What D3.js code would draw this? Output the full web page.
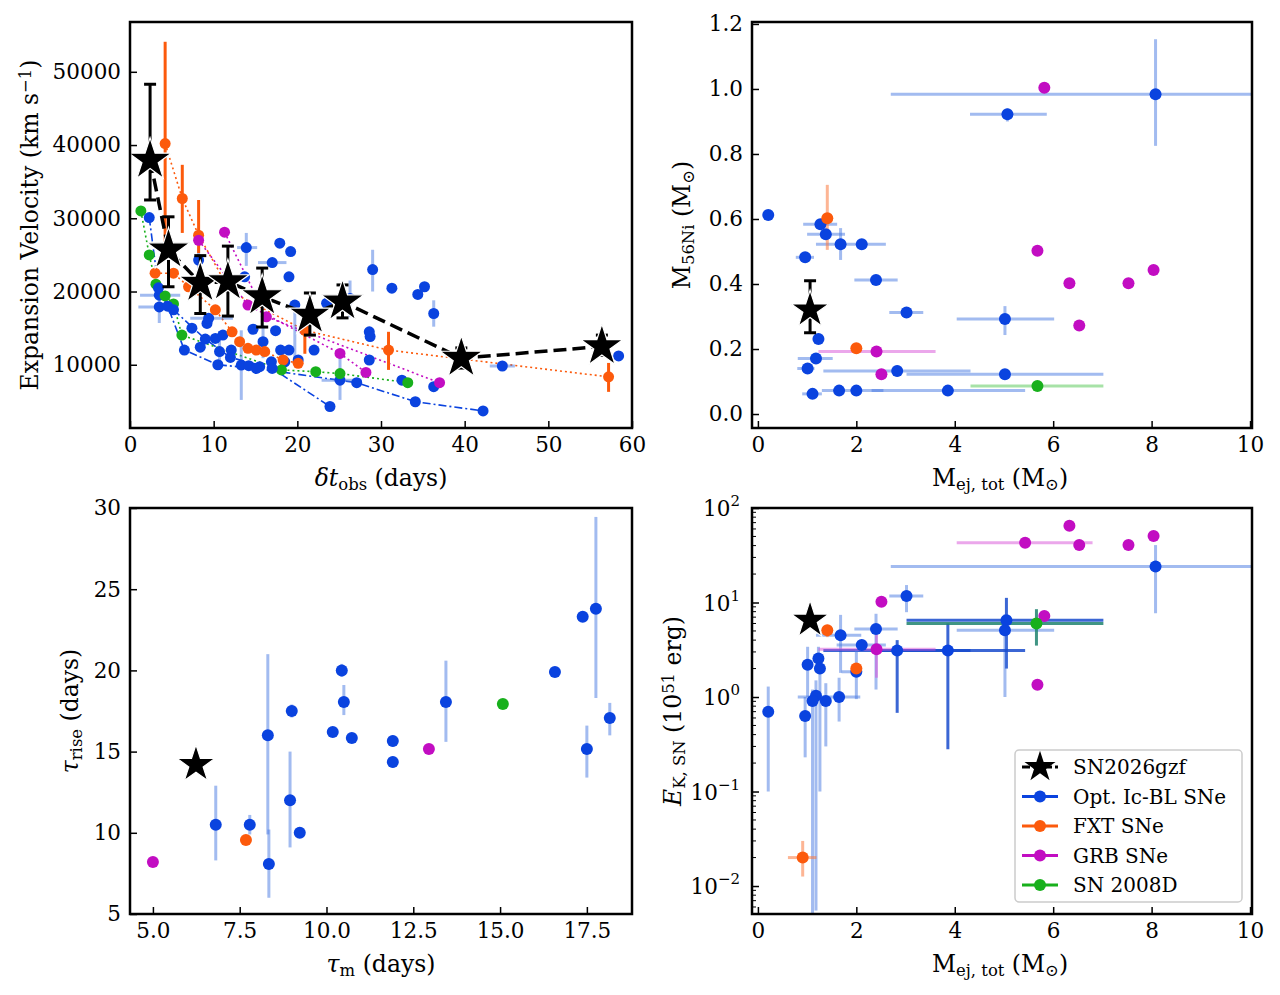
<!DOCTYPE html>
<html><head><meta charset="utf-8">
<script src="https://cdn.jsdelivr.net/npm/d3@7"></script>
<style>body{margin:0;background:#fff}svg text{font-family:"DejaVu Serif",serif}</style>
</head><body>
<svg id="c" width="1280" height="995"></svg>
<script>
// ---------- data: panel A (velocity vs time) ----------
// SN2026gzf: [t, v, vlo, vhi]
var starVel = [[2.4,37950,32500,48300],[4.6,25700,20650,30200],[8.4,21150,17000,24900],[11.7,21350,16650,26200],
  [15.8,19300,15150,23200],[21.5,16800,14050,19800],[25.4,18600,16400,20900],[39.6,10900,9550,12300],[56.4,12500,11300,14050]];
// Ic-BL scatter: [t, v, tlo, thi, vlo, vhi] (null = no bar)
var blueVel = [[3.5,19500,1.2,6.0,null,null],[3.5,17900,1.0,5.2,15700,19800],[7.4,15000],[8.4,12400,null,null,11700,13100],
  [8.2,24300,null,null,22500,26000],[9.2,15650],[9.4,16350,7.2,12.3,null,null],[10.2,13600],[10.7,11800,null,null,9300,14600],
  [11.1,14050],[12.1,12000],[13.3,9950,null,null,5200,14700],[14.2,9870],[13.9,26000,12.8,15.2,23500,28000],[13.7,22000],
  [14.7,14850],[15.5,9730],[15.9,13150,null,null,10900,15400],[16.9,10400],[17.0,23950,15.3,18.7,null,null],[17.4,14650],
  [17.9,26600],[18.0,12000],[18.5,10400],[19.0,12000],[19.0,22000],[19.2,25450],[19.7,18150,null,null,10200,18200],
  [20.1,10650],[22.0,12000],[23.5,18400],[25.1,7900,22.9,27.7,5200,11500],[26.3,19050,null,null,16500,21500],[28.6,14500],
  [28.7,13850],[28.6,10650],[29.0,23000,null,null,20000,25700],[31.3,20450],[32.5,7900],[34.4,19600],[35.2,20650],
  [36.3,17000,null,null,15200,18800],[36.3,7000],[44.5,9830,43.0,46.0,null,null],[58.4,11200]];
var blueLines = [[[2.3,30100],[3.4,20500],[4.5,18000],[6.5,12000],[10.5,10000],[15.1,9500],[27.1,7550],[34.1,4950],[42.2,3700]],
  [[5.2,17500],[9.0,13500],[12.0,11000],[17.0,9500],[23.9,4300]]];
var orangeLines = [[[4.2,40200],[6.25,32700],[8.2,27700],[12.0,20000],[20.9,14700],[30.9,12000],[57.2,8350]],
  [[3.0,22500],[5.2,22500],[7.0,20650],[10.2,17500],[12.2,14500],[13.1,13150],[14.1,12250],[15.1,12000],[16.1,11800],[18.3,10650],[20.1,10200]]];
// orange bars: [t, v, vlo, vhi]
var orangeBars = [[4.2,40200,25250,54100],[6.25,32700,28000,37300],[8.2,27700,25250,32500],[20.9,14700,11500,16800],
  [30.9,12000,9300,14500],[57.2,8350,6300,10250]];
var magLines = [[[8.2,27000],[14.1,18150],[25.1,11550],[28.2,8950]],[[11.3,28100],[16.3,16550],[37.0,7550]]];
var greenLine = [[1.3,31000],[2.3,25000],[3.1,21000],[4.2,19400],[5.2,18300],[6.2,14050],[18.1,9300],[22.2,9050],[25.1,8800],[33.2,7550]];

// ---------- panel B (Ni mass vs ejecta mass): [m, ni, mlo, mhi, nlo, nhi] ----------
var starNi = [[1.06,0.32,null,null,0.25,0.41]];
var blueNi = [[0.21,0.612],[1.27,0.584,0.92,1.61],[1.38,0.553,1.0,1.77],[1.68,0.522,null,null,0.474,0.572],[2.11,0.522,1.18,2.6],
  [0.96,0.482,0.77,1.14],[2.4,0.412,1.96,2.84],[3.02,0.312,2.67,3.36],[5.02,0.292,4.04,6.02,0.243,0.332],
  [8.08,0.984,2.7,10.5,0.825,1.153],[5.07,0.922,4.31,5.87,0.9,0.94],[1.23,0.231],[1.18,0.171,0.81,1.52],[1.01,0.14,0.8,1.15],
  [2.83,0.132,1.33,4.32,0.115,0.15],[5.02,0.122,3.02,7.02],[1.65,0.072],[2.0,0.072,1.3,2.55],[3.86,0.072,2.31,5.43],[1.11,0.062,0.9,1.3]];
var orangeNi = [[1.41,0.602,null,null,0.505,0.705],[2.0,0.202]];
var magNi = [[5.82,1.004],[5.68,0.502],[6.33,0.402],[7.53,0.402],[8.04,0.443],[6.53,0.272],[2.41,0.192,1.23,3.61],[2.51,0.122]];
var greenNi = [[5.68,0.086,4.32,7.02]];

// ---------- panel C (rise time vs tau_m): [tm, tr, null, null, lo, hi] ----------
var starTau = [[6.24,14.2]];
var blueTau = [[6.81,10.5,null,null,8.3,12.9],[7.79,10.5,null,null,9.9,11.1],[8.31,16.0,null,null,9.9,21.0],[8.34,8.08,null,null,6.0,10.2],
  [8.95,12.0,null,null,9.1,15.0],[9.0,17.5,null,null,17.1,17.9],[9.23,10.0],[10.18,16.2],[10.44,20.0,null,null,19.6,20.4],
  [10.5,18.05,null,null,17.25,19.1],[10.73,15.84],[11.91,15.65,null,null,15.3,16.0],[11.91,14.36,null,null,14.0,14.7],
  [13.44,18.05,null,null,15.6,20.6],[16.58,19.9],[17.38,23.3],[17.5,15.16,null,null,13.4,16.6],[17.76,23.8,null,null,18.3,29.45],
  [18.16,17.07,null,null,16.0,18.0]];
var orangeTau = [[7.68,9.56]];
var magTau = [[5.0,8.2],[12.95,15.16]];
var greenTau = [[15.08,17.93]];

// ---------- panel D (kinetic energy vs ejecta mass) ----------
var starEk = [[1.06,6.5]];
var blueEk = [[8.08,24,2.7,10.5,7.7,40.5],[3.02,11.7,2.67,3.36,7.9,15.3],[5.05,6.5,3.02,7.02,2.0,11.2,1],[5.02,5.1,4.04,6.02,1.0,7.5],
  [1.68,4.5,1.18,2.1,1.8,7.4],[2.4,5.25,1.96,2.84,1.2,7.6],[2.83,3.1,1.33,4.32,0.68,4.0,1],[3.86,3.1,2.31,5.43,0.28,6.0,1],
  [2.11,3.55,1.6,2.6],[2.0,1.85,1.7,2.1,0.95,3.2],[1.01,2.2,null,null,1.0,3.4],[1.23,2.55,null,null,2.0,3.4],
  [1.26,2.0,null,null,0.1,2.6],[1.65,1.0,0.81,2.08,0.55,1.6],[1.18,1.03,null,null,0.0055,1.5],[1.11,0.91,null,null,0.005,1.2],
  [1.38,0.91,null,null,0.3,1.4],[0.96,0.63,null,null,0.23,1.0],[0.21,0.7,null,null,0.1,1.29]];
var orangeEk = [[1.41,5.1,null,null,4.3,5.8],[2.0,2.0],[0.91,0.02,0.61,1.19,0.0126,0.03]];
var magEk = [[6.33,65],[5.43,43,4.04,6.8],[6.53,40.6],[7.53,40.6],[8.04,50.6],[2.51,10.2],[5.82,7.2],[5.68,1.35],
  [2.41,3.2,1.23,3.61,1.6,4.75]];
var greenEk = [[5.66,6.0,3.02,7.02,3.5,8.5]];

var legendNames = ["SN2026gzf","Opt. Ic-BL SNe","FXT SNe","GRB SNe","SN 2008D"];

var C = {blue:"#0a43df", lblue:"rgba(70,120,225,0.5)", dblue:"rgba(25,75,205,0.85)", orange:"#fc5a0c", lorange:"rgba(252,120,60,0.55)",
  mag:"#c20dc2", lmag:"rgba(215,80,215,0.5)", green:"#18b01c", lgreen:"rgba(60,190,60,0.45)"};

var svg = d3.select("#c");

function panel(x0, y0, w, h, xs, ys) {
  var g = svg.append("g").attr("transform", "translate(" + x0 + "," + y0 + ")");
  g.append("defs").append("clipPath").attr("id", "cp" + x0 + y0).append("rect").attr("width", w).attr("height", h);
  var inner = g.append("g").attr("clip-path", "url(#cp" + x0 + y0 + ")");
  return {g: g, inner: inner, x: xs, y: ys, w: w, h: h};
}

function axes(p, xticks, yticks, xfmt, yfmt) {
  var ax = p.g.append("g").attr("transform", "translate(0," + p.h + ")")
    .call(d3.axisBottom(p.x).tickValues(xticks).tickFormat(xfmt).tickSizeInner(-7).tickSizeOuter(0).tickPadding(9));
  var ay = p.g.append("g")
    .call(d3.axisLeft(p.y).tickValues(yticks).tickFormat(yfmt).tickSizeInner(-7).tickSizeOuter(0).tickPadding(9));
  [ax, ay].forEach(function(a) {
    a.select(".domain").remove();
    a.selectAll("line").attr("stroke", "#000").attr("stroke-width", 1.5);
    a.selectAll("text").attr("font-size", 21.5).attr("fill", "#000").attr("font-family", "DejaVu Serif");
  });
  p.g.append("rect").attr("width", p.w).attr("height", p.h).attr("fill", "none").attr("stroke", "#000").attr("stroke-width", 2.5);
}

function bars(p, rows, col, caps) {
  rows.forEach(function(r) {
    var c = r[6] ? C.dblue : col;
    if (r[2] != null) p.inner.append("line").attr("x1", p.x(r[2])).attr("x2", p.x(r[3])).attr("y1", p.y(r[1])).attr("y2", p.y(r[1]))
      .attr("stroke", c).attr("stroke-width", 3);
    if (r[4] != null) {
      p.inner.append("line").attr("x1", p.x(r[0])).attr("x2", p.x(r[0])).attr("y1", p.y(r[4])).attr("y2", p.y(r[5]))
        .attr("stroke", c).attr("stroke-width", 3);
      if (caps) [r[4], r[5]].forEach(function(v) {
        p.inner.append("line").attr("x1", p.x(r[0]) - 6).attr("x2", p.x(r[0]) + 6).attr("y1", p.y(v)).attr("y2", p.y(v))
          .attr("stroke", c).attr("stroke-width", 3);
      });
    }
  });
}

function dots(p, rows, col, r) {
  p.inner.selectAll(null).data(rows).enter().append("circle")
    .attr("cx", function(d) { return p.x(d[0]); }).attr("cy", function(d) { return p.y(d[1]); })
    .attr("r", r || 6).attr("fill", col);
}

function stars(p, rows, size) {
  p.inner.selectAll(null).data(rows).enter().append("path")
    .attr("d", d3.symbol().type(d3.symbolStar).size(size))
    .attr("transform", function(d) { return "translate(" + p.x(d[0]) + "," + p.y(d[1]) + ")"; })
    .attr("fill", "#000").attr("stroke", "#fff").attr("stroke-width", 1.2);
}

function path(p, pts, col, dash, sw) {
  p.inner.append("path").datum(pts)
    .attr("d", d3.line().x(function(d) { return p.x(d[0]); }).y(function(d) { return p.y(d[1]); }))
    .attr("fill", "none").attr("stroke", col).attr("stroke-width", sw || 1.6).attr("stroke-dasharray", dash);
}

function label(x, y, rot, parts, size) {
  size = size || 23.5;
  var t = svg.append("text").attr("transform", "translate(" + x + "," + y + ") rotate(" + rot + ")")
    .attr("text-anchor", "middle").attr("font-size", size).attr("fill", "#000");
  parts.forEach(function(s) {
    var ts = t.append("tspan").text(s[0]);
    if (s[1] == "sub") ts.attr("font-size", size * 0.7).attr("baseline-shift", "-25%");
    if (s[1] == "sup") ts.attr("font-size", size * 0.7).attr("baseline-shift", "45%");
    if (s[1] == "it") ts.attr("font-style", "italic");
  });
}

// ---------- Panel A ----------
var pA = panel(130, 22, 502, 406, d3.scaleLinear().domain([0, 60]).range([0, 502]),
  d3.scaleLinear().domain([1365, 56800]).range([406, 0]));
blueLines.forEach(function(l) { path(pA, l, C.blue, "8,3,2,3"); });
orangeLines.forEach(function(l) { path(pA, l, C.orange, "2,3"); });
magLines.forEach(function(l) { path(pA, l, C.mag, "2,3"); });
path(pA, greenLine, C.green, "2,3");
bars(pA, blueVel, C.lblue);
dots(pA, blueVel, C.blue, 5.5);
bars(pA, orangeBars.map(function(r) { return [r[0], r[1], null, null, r[2], r[3]]; }), C.orange);
dots(pA, orangeBars, C.orange, 5.5);
dots(pA, orangeLines[1], C.orange, 5.5);
dots(pA, magLines[0].concat(magLines[1]), C.mag, 5.5);
dots(pA, greenLine, C.green, 5.5);
dots(pA, blueLines[0].concat(blueLines[1]), C.blue, 5.5);
path(pA, starVel, "#000", "13,6", 3.5);
bars(pA, starVel.map(function(r) { return [r[0], r[1], null, null, r[2], r[3]]; }), "#000", true);
stars(pA, starVel, 560);
axes(pA, d3.range(0, 61, 10), d3.range(10000, 50001, 10000), d3.format("d"), d3.format("d"));
label(38, 225, -90, [["Expansion Velocity (km s"], ["−1", "sup"], [")"]]);
label(381, 486, 0, [["δ", "it"], ["t", "it"], ["obs", "sub"], [" (days)"]]);

// ---------- Panel B ----------
var mScale = function() { return d3.scaleLinear().domain([-0.12, 10.04]).range([0, 500]); };
var pB = panel(752, 22, 500, 406, mScale(), d3.scaleLinear().domain([-0.043, 1.206]).range([406, 0]));
bars(pB, blueNi, C.lblue); bars(pB, orangeNi, C.lorange); bars(pB, magNi, C.lmag); bars(pB, greenNi, C.lgreen);
dots(pB, blueNi, C.blue); dots(pB, orangeNi, C.orange); dots(pB, magNi, C.mag); dots(pB, greenNi, C.green);
bars(pB, starNi, "#000", true); stars(pB, starNi, 440);
axes(pB, d3.range(0, 11, 2), d3.range(0, 1.21, 0.2), d3.format("d"), d3.format(".1f"));
label(690, 225, -90, [["M"], ["56Ni", "sub"], [" (M"], ["⊙", "sub"], [")"]]);
label(1000, 486, 0, [["M"], ["ej, tot", "sub"], [" (M"], ["⊙", "sub"], [")"]]);

// ---------- Panel C ----------
var pC = panel(130, 508, 502, 406, d3.scaleLinear().domain([4.34, 18.8]).range([0, 502]),
  d3.scaleLinear().domain([5, 30]).range([406, 0]));
bars(pC, blueTau, C.lblue);
dots(pC, blueTau, C.blue); dots(pC, orangeTau, C.orange); dots(pC, magTau, C.mag); dots(pC, greenTau, C.green);
stars(pC, starTau, 440);
axes(pC, d3.range(5, 17.6, 2.5), d3.range(5, 31, 5), d3.format(".1f"), d3.format("d"));
label(78, 711, -90, [["τ", "it"], ["rise", "sub"], [" (days)"]]);
label(381, 972, 0, [["τ", "it"], ["m", "sub"], [" (days)"]]);

// ---------- Panel D ----------
var pD = panel(752, 508, 500, 406, mScale(), d3.scaleLog().domain([Math.pow(10, -2.296), 100]).range([406, 0]));
bars(pD, blueEk, C.lblue); bars(pD, orangeEk, C.lorange); bars(pD, magEk, C.lmag); bars(pD, greenEk, "rgba(30,130,110,0.85)");
dots(pD, blueEk, C.blue); dots(pD, orangeEk, C.orange); dots(pD, magEk, C.mag); dots(pD, greenEk, C.green);
stars(pD, starEk, 440);
axes(pD, d3.range(0, 11, 2), [0.01, 0.1, 1, 10, 100], d3.format("d"), function() { return ""; });
// minor log ticks
var minor = [];
[0.001, 0.01, 0.1, 1, 10].forEach(function(b) { for (var k = 2; k < 10; k++) minor.push(b * k); });
pD.g.selectAll(null).data(minor.filter(function(v) { return v > pD.y.domain()[0] && v < 100; })).enter().append("line")
  .attr("x1", 0).attr("x2", 4).attr("y1", function(d) { return pD.y(d); }).attr("y2", function(d) { return pD.y(d); })
  .attr("stroke", "#000").attr("stroke-width", 1);
var logLab = [[0.01, "−2"], [0.1, "−1"], [1, "0"], [10, "1"], [100, "2"]];
logLab.forEach(function(d) {
  var t = pD.g.append("text").attr("x", -12).attr("y", pD.y(d[0]) + 8).attr("text-anchor", "end").attr("font-size", 21.5);
  t.append("tspan").text("10");
  t.append("tspan").text(d[1]).attr("font-size", 15).attr("dy", -10);
});
label(681, 711, -90, [["E", "it"], ["K, SN", "sub"], [" (10"], ["51", "sup"], [" erg)"]]);
label(1000, 972, 0, [["M"], ["ej, tot", "sub"], [" (M"], ["⊙", "sub"], [")"]]);

// legend
var lg = svg.append("g").attr("transform", "translate(1015,750)");
lg.append("rect").attr("width", 227).attr("height", 152).attr("rx", 4).attr("fill", "#fff")
  .attr("stroke", "#ccc").attr("stroke-width", 1.5);
var lcol = ["#000", C.blue, C.orange, C.mag, C.green];
legendNames.forEach(function(n, i) {
  var y = 17 + i * 29.5;
  lg.append("line").attr("x1", 7).attr("x2", 43).attr("y1", y).attr("y2", y).attr("stroke", lcol[i]).attr("stroke-width", 3)
    .attr("stroke-dasharray", i == 0 ? "8,3" : null);
  if (i == 0) lg.append("path").attr("d", d3.symbol().type(d3.symbolStar).size(300)).attr("transform", "translate(25," + y + ")").attr("fill", "#000");
  else lg.append("circle").attr("cx", 25).attr("cy", y).attr("r", 6).attr("fill", lcol[i]);
  lg.append("text").attr("x", 58).attr("y", y + 7).attr("font-size", 20).text(n);
});
</script>
</body></html>
